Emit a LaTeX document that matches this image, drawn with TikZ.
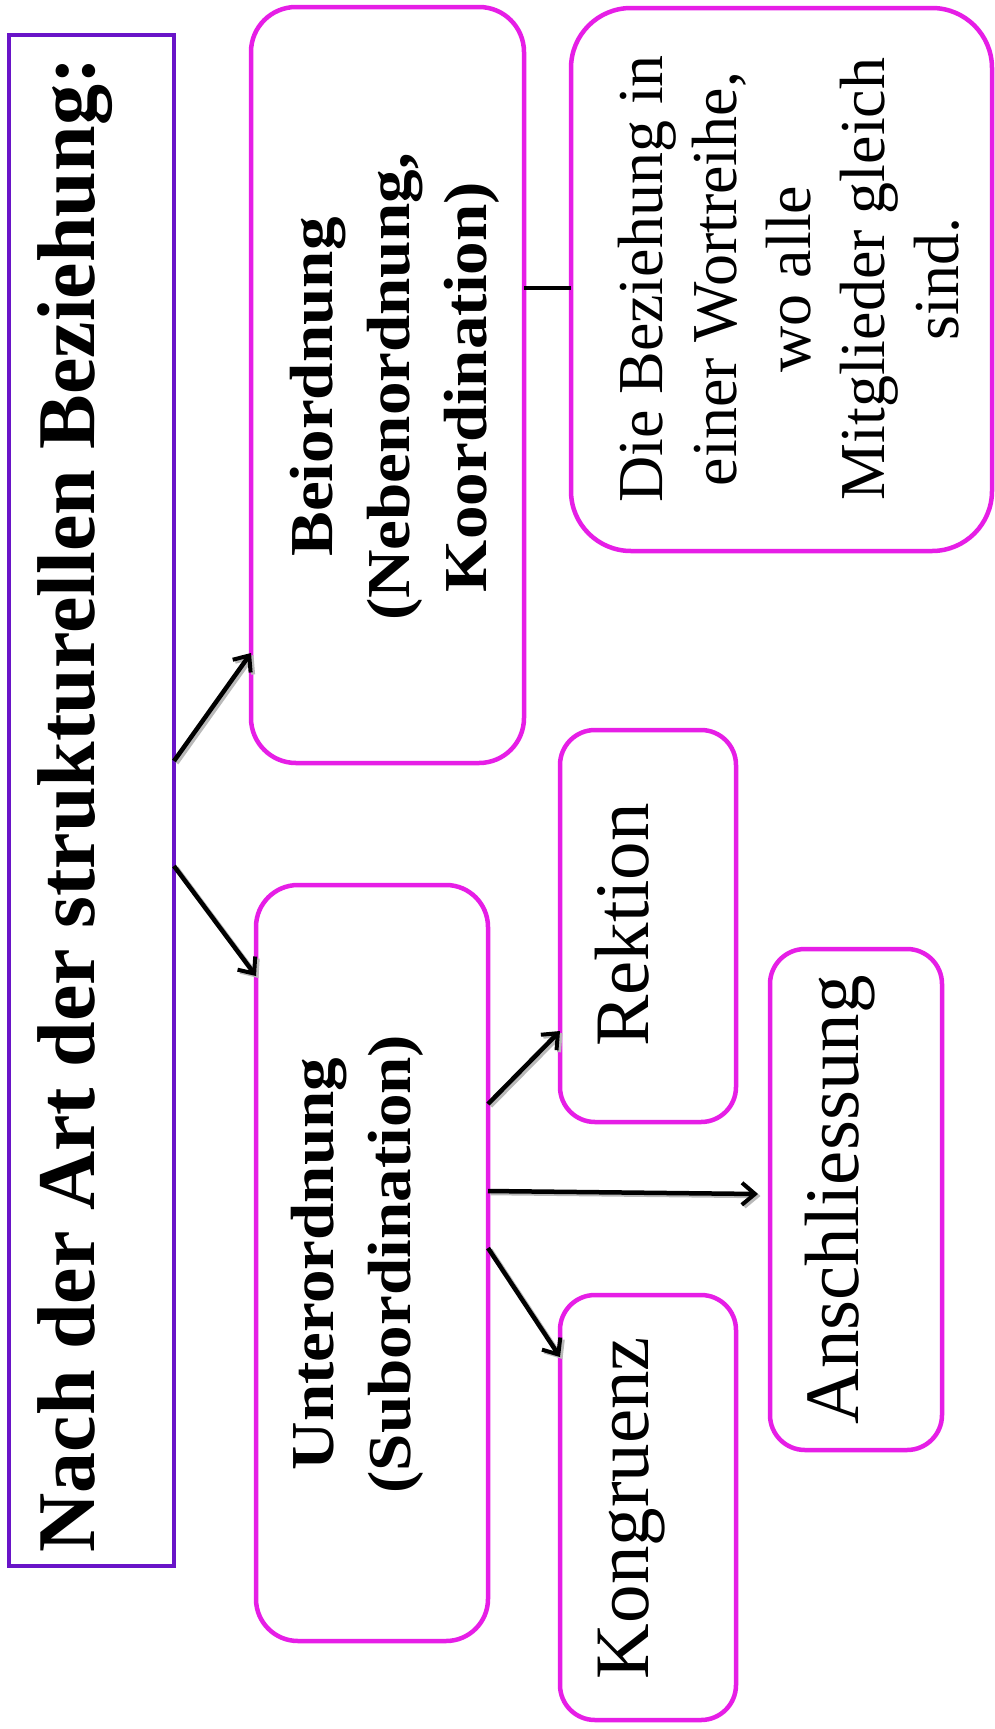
\documentclass[tikz,border=0pt]{standalone}
\usepackage{fontspec}
\setmainfont{Liberation Serif}
\usetikzlibrary{arrows.meta,calc}
\definecolor{titlepurple}{RGB}{105,20,200}
\definecolor{boxmagenta}{RGB}{230,30,230}
\begin{document}
\begin{tikzpicture}[x=1pt,y=-1pt,
  titlebox/.style={draw=titlepurple,line width=4pt,rectangle,inner sep=0pt,outer sep=0pt},
  rbox/.style={draw=boxmagenta,line width=4.5pt,rectangle,rounded corners=#1,inner sep=0pt,outer sep=0pt},
  rbox/.default=35pt,
  vtext/.style={rotate=90,anchor=base,inner sep=0pt},
  conn/.style={line width=4.5pt,black,
    preaction={draw=gray!55,line width=4.5pt,transform canvas={xshift=2.5pt,yshift=-2pt}}},
  arr/.style={conn,-{Straight Barb[length=13pt,width=22pt,line width=4pt]}}
]
\useasboundingbox (0,0) rectangle (995,1729);
\fill[white] (0,0) rectangle (995,1729);

% boxes
\node[titlebox,minimum width=165pt,minimum height=1531pt] (title) at (91.5,800.5) {};
\node[rbox=45pt,minimum width=273pt,minimum height=756pt] (bei) at (387.5,385) {};
\node[rbox=60pt,minimum width=421pt,minimum height=543pt] (def) at (781.5,279.5) {};
\node[rbox=42pt,minimum width=232pt,minimum height=756pt] (unter) at (372,1263) {};
\node[rbox=35pt,minimum width=176pt,minimum height=392pt] (rek) at (648,926) {};
\node[rbox=35pt,minimum width=172pt,minimum height=501pt] (ans) at (856,1199.5) {};
\node[rbox=35pt,minimum width=176pt,minimum height=425pt] (kon) at (648,1507.5) {};

% texts
\node[vtext] (titletext) at (94,805) {\fontsize{82}{96}\selectfont\bfseries Nach der Art der strukturellen Beziehung:};
\node[vtext] (beitext) at (332,387) {\scalebox{1.1}[1]{\fontsize{61}{77}\selectfont\bfseries\setlength{\tabcolsep}{0pt}\begin{tabular}[t]{c}Beiordnung\\(Nebenordnung,\\Koordination)\end{tabular}}};
\node[vtext] (deftext) at (662,279) {\fontsize{64}{74}\selectfont\setlength{\tabcolsep}{0pt}\begin{tabular}[t]{c}Die Beziehung in\\einer Wortreihe,\\wo alle\\Mitglieder gleich\\sind.\end{tabular}};
\node[vtext] (untertext) at (333,1264) {\scalebox{1.1}[1]{\fontsize{61}{77}\selectfont\bfseries\setlength{\tabcolsep}{0pt}\begin{tabular}[t]{c}Unterordnung\\(Subordination)\end{tabular}}};
\node[vtext] (rektext) at (648,925) {\fontsize{77}{90}\selectfont Rektion};
\node[vtext] (anstext) at (858,1200) {\fontsize{77}{90}\selectfont Anschliessung};
\node[vtext] (kontext) at (648,1508) {\fontsize{77}{90}\selectfont Kongruenz};

% connectors
\draw[arr] ($(title.east)+(0,-39.5)$) -- ($(bei.west)+(0,268)$);
\draw[arr] ($(title.east)+(0,65.5)$) -- ($(unter.west)+(0,-287)$);
\draw[line width=3.5pt] ($(bei.east)+(0,-97)$) -- ($(def.west)+(0,8.5)$);
\draw[arr] ($(unter.east)+(0,-159)$) -- ($(rek.west)+(0,105)$);
\coordinate (anstip) at ($(ans.west)+(-12,-5.5)$);
\draw[arr] ($(unter.east)+(0,-72)$) -- (anstip);
\draw[arr] ($(unter.east)+(0,-15)$) -- ($(kon.west)+(0,-150.5)$);
\end{tikzpicture}
\end{document}
